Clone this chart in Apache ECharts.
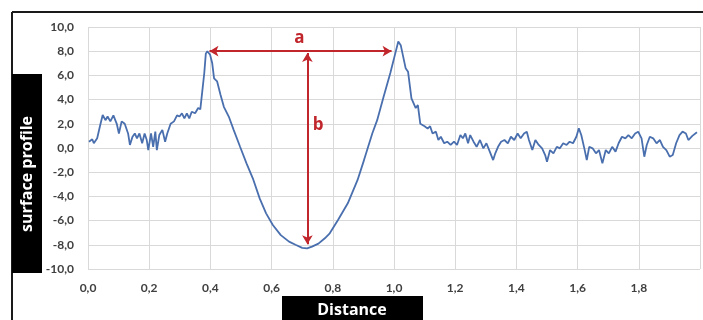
<!DOCTYPE html>
<html><head><meta charset="utf-8">
<script src="https://cdn.jsdelivr.net/npm/echarts@6/dist/echarts.min.js"></script>
<style>html,body{margin:0;padding:0;background:#fff}#c{width:703px;height:320px}</style>
</head><body><div id="c"></div>
<script>
const xTicks = [0,0.2,0.4,0.6,0.8,1.0,1.2,1.4,1.6,1.8];
const yTicks = [-10,-8,-6,-4,-2,0,2,4,6,8,10];
const distance = [0.003,0.014,0.019,0.03,0.04,0.048,0.057,0.064,0.073,0.083,0.094,0.101,0.11,0.12,0.131,0.137,0.145,0.153,0.16,0.168,0.177,0.185,0.192,0.197,0.206,0.213,0.22,0.225,0.233,0.243,0.252,0.259,0.27,0.281,0.291,0.299,0.307,0.315,0.323,0.331,0.339,0.35,0.36,0.367,0.374,0.38,0.385,0.39,0.399,0.406,0.412,0.422,0.433,0.444,0.46,0.476,0.497,0.518,0.54,0.561,0.582,0.604,0.63,0.657,0.678,0.7,0.716,0.732,0.753,0.774,0.79,0.817,0.849,0.881,0.902,0.929,0.945,0.966,0.988,1.004,1.014,1.022,1.03,1.038,1.046,1.057,1.062,1.071,1.078,1.086,1.1,1.11,1.118,1.126,1.137,1.145,1.153,1.164,1.174,1.185,1.196,1.206,1.217,1.225,1.233,1.242,1.249,1.26,1.27,1.281,1.292,1.302,1.313,1.324,1.331,1.34,1.35,1.361,1.372,1.382,1.393,1.404,1.414,1.425,1.434,1.441,1.452,1.462,1.473,1.484,1.494,1.5,1.51,1.521,1.532,1.542,1.553,1.564,1.574,1.585,1.596,1.604,1.612,1.622,1.63,1.638,1.649,1.66,1.67,1.681,1.692,1.702,1.713,1.724,1.734,1.745,1.756,1.766,1.777,1.788,1.798,1.809,1.818,1.826,1.836,1.847,1.858,1.869,1.879,1.89,1.901,1.911,1.922,1.933,1.943,1.954,1.962,1.975,1.99];
const profile = [0.52,0.72,0.39,0.8,1.9,2.73,2.3,2.6,2.2,2.7,2.0,1.2,2.2,2.0,1.2,0.25,0.9,1.2,0.8,1.2,0.4,1.2,0.66,-0.17,1.2,0.1,1.35,-0.17,1.07,1.5,0.52,1.2,2.0,2.2,2.7,2.6,2.87,2.45,2.87,2.45,3.0,2.87,3.3,3.2,4.8,6.2,7.8,8.0,7.7,7.0,5.76,5.5,4.4,3.4,2.6,1.5,0.1,-1.27,-2.6,-4.16,-5.4,-6.36,-7.2,-7.74,-8.0,-8.25,-8.3,-8.15,-7.9,-7.46,-7.05,-5.95,-4.57,-2.64,-1.0,1.2,2.3,4.24,6.2,7.8,8.8,8.5,7.55,6.6,6.3,4.1,4.1,3.3,3.55,2.0,1.8,1.6,1.8,1.2,1.35,0.66,0.93,0.39,0.52,0.25,0.52,0.25,1.07,0.8,1.2,0.39,1.07,0.52,0.1,0.66,-0.03,0.39,-0.3,-1.0,-0.44,0.1,0.52,0.66,0.39,0.93,0.66,1.2,0.8,1.2,1.35,0.66,-0.17,0.66,0.25,-0.03,-0.58,-1.13,-0.17,-0.44,0.1,-0.03,0.39,0.25,0.52,0.39,0.93,1.63,1.07,-0.03,-1.0,0.1,-0.03,-0.44,-0.17,-1.27,-0.17,-0.44,0.1,-0.3,0.39,0.93,0.8,1.07,0.8,1.2,1.35,0.8,-0.72,0.25,0.93,0.8,0.39,0.66,0.1,-0.17,-0.72,-0.58,0.39,1.07,1.35,1.2,0.66,1.0,1.3];
const arrowA = [[0.397, 8.0], [0.992, 8.0]];
const arrowB = [[0.717, 7.85], [0.717, -7.95]];
const labelA = [0.691, 9.1];
const labelB = [0.752, 1.9];

const fmt = v => v.toFixed(1).replace('.', ',');
const red = '#c0262c';
const chart = echarts.init(document.getElementById('c'), null, {renderer: 'canvas'});
chart.setOption({
  animation: false,
  backgroundColor: '#fff',
  grid: {left: 88, right: -10, top: 27, bottom: 51, containLabel: false},
  xAxis: {
    type: 'value', min: 0, max: 2, interval: 0.2,
    axisLine: {show: false}, axisTick: {show: false},
    splitLine: {show: true, lineStyle: {color: '#d9d9d9', width: 1}},
    axisLabel: {
      margin: 13, color: '#404040', fontFamily: 'Lato', fontWeight: 'bold', fontSize: 12,
      formatter: v => xTicks.some(t => Math.abs(t - v) < 1e-6) ? fmt(v) : ''
    }
  },
  yAxis: {
    type: 'value', min: -10, max: 10, interval: 2,
    axisLine: {show: false}, axisTick: {show: false},
    splitLine: {show: true, lineStyle: {color: '#d9d9d9', width: 1}},
    axisLabel: {
      margin: 14, color: '#404040', fontFamily: 'Lato', fontWeight: 'bold', fontSize: 12,
      formatter: v => yTicks.includes(v) ? fmt(v) : ''
    }
  },
  series: [{
    type: 'line',
    data: distance.map((x, i) => [x, profile[i]]),
    showSymbol: false,
    lineStyle: {color: '#4a6fae', width: 1.8},
    markLine: {
      silent: true,
      symbol: ['arrow', 'arrow'],
      symbolSize: [8, 9],
      label: {show: false},
      lineStyle: {color: red, width: 2, type: 'solid'},
      data: [
        [{coord: arrowA[0]}, {coord: arrowA[1]}],
        [{coord: arrowB[0]}, {coord: arrowB[1]}]
      ]
    },
    markPoint: {
      silent: true,
      symbol: 'circle', symbolSize: 0,
      label: {show: true, color: red, fontFamily: 'Open Sans', fontWeight: 'bold', fontSize: 17, formatter: p => p.name},
      data: [
        {name: 'a', coord: labelA},
        {name: 'b', coord: labelB}
      ]
    }
  }],
  graphic: [
    {type: 'line', shape: {x1: 12, y1: 12, x2: 703, y2: 12}, style: {stroke: '#1a1a1a', lineWidth: 2}},
    {type: 'line', shape: {x1: 12, y1: 12, x2: 12, y2: 320}, style: {stroke: '#1a1a1a', lineWidth: 2}},
    {type: 'rect', shape: {x: 12, y: 74, width: 30, height: 199}, style: {fill: '#000'}},
    {type: 'text', x: 27, y: 174, rotation: Math.PI / 2,
      style: {text: 'surface profile', fill: '#fff', font: 'bold 16px "Open Sans"', textAlign: 'center', textVerticalAlign: 'middle'}},
    {type: 'rect', shape: {x: 282, y: 296, width: 141, height: 30}, style: {fill: '#000'}},
    {type: 'text', x: 352, y: 310,
      style: {text: 'Distance', fill: '#fff', font: 'bold 16px "Open Sans"', textAlign: 'center', textVerticalAlign: 'middle'}}
  ]
});
</script></body></html>
